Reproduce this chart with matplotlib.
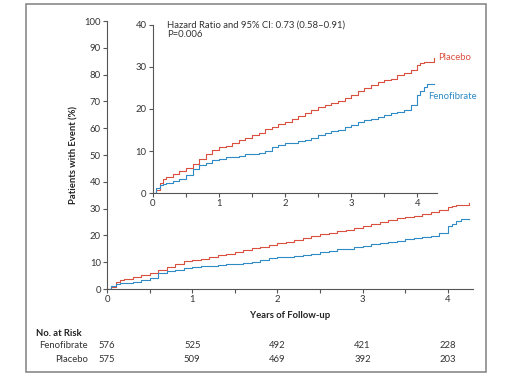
import matplotlib.pyplot as plt
from matplotlib.patches import Rectangle
import matplotlib.transforms as mtransforms

plt.rcParams['font.family'] = ['Lato', 'DejaVu Sans']

# Kaplan-Meier style cumulative incidence (%)
years = [0, 0.05, 0.1, 0.15, 0.2, 0.3, 0.4, 0.5, 0.6, 0.7, 0.8, 0.9, 1.0,
         1.1, 1.2, 1.3, 1.4, 1.5, 1.6, 1.7, 1.8, 1.9, 2.0, 2.1, 2.2, 2.3,
         2.4, 2.5, 2.6, 2.7, 2.8, 2.9, 3.0, 3.1, 3.2, 3.3, 3.4, 3.5, 3.6,
         3.7, 3.8, 3.9, 4.0, 4.05, 4.1, 4.15, 4.25]
placebo = [0, 0.8, 2.5, 3.3, 3.8, 4.5, 5.3, 6.0, 7.0, 8.2, 9.3, 10.3, 11.0,
           11.3, 11.9, 12.6, 13.2, 13.8, 14.4, 15.2, 15.8, 16.4, 17.0, 17.6,
           18.3, 19.0, 19.8, 20.5, 20.9, 21.5, 22.0, 22.6, 23.4, 24.3, 25.0,
           25.6, 26.4, 26.9, 27.2, 28.0, 28.6, 29.4, 30.5, 30.9, 31.2, 31.3,
           32.2]
fenofibrate = [0, 1.3, 2.0, 2.2, 2.4, 2.8, 3.3, 4.2, 5.8, 6.6, 7.2, 7.8, 8.2,
               8.5, 8.6, 8.9, 9.2, 9.4, 9.6, 10.0, 11.0, 11.4, 11.8, 12.0,
               12.3, 12.6, 13.2, 13.7, 14.2, 14.8, 15.1, 15.6, 16.1, 16.8,
               17.3, 17.6, 18.0, 18.5, 19.0, 19.4, 19.8, 21.0, 23.4, 24.2,
               25.2, 26.0, 26.0]

risk_years = [0, 1, 2, 3, 4]
risk_fenofibrate = [576, 525, 492, 421, 228]
risk_placebo = [575, 509, 469, 392, 203]

RED = '#d9503f'
BLUE = '#2f8bc6'
AXC = '#555555'
TXT = '#333333'
FS = 6.8


def style_axis(ax, ymax, ystep):
    for s in ['top', 'right']:
        ax.spines[s].set_visible(False)
    for s in ['left', 'bottom']:
        ax.spines[s].set_color(AXC)
        ax.spines[s].set_linewidth(0.8)
    ax.set_xlim(0, 4.3)
    ax.set_ylim(0, ymax)
    ax.set_xticks([0, 1, 2, 3, 4])
    ax.set_xticks([0.5, 1.5, 2.5, 3.5], minor=True)
    ax.set_yticks(range(0, ymax + 1, ystep))
    ax.tick_params(colors=AXC, labelcolor=TXT, labelsize=FS, length=3,
                   width=0.8, pad=1.5)
    ax.tick_params(axis='x', which='minor', length=3, width=0.8, colors=AXC)
    ax.spines['bottom'].set_bounds(0, 4.3)


fig = plt.figure(figsize=(5.15, 3.78), dpi=100)

fig.patches.append(Rectangle((0.0505, 0.016), 0.893, 0.973,
                             transform=fig.transFigure, fill=False,
                             edgecolor='#8a8a8a', linewidth=1.2))

# main axes
ax = fig.add_axes([0.208, 0.2354, 0.711, 0.709])
ax.plot(years, placebo, drawstyle='steps-post', color=RED, lw=0.8)
ax.plot(years, fenofibrate, drawstyle='steps-post', color=BLUE, lw=0.8)
style_axis(ax, 100, 10)
ax.set_ylabel('Patients with Event (%)', fontsize=FS, fontweight='bold',
              color='#222222', labelpad=4)
ax.set_xlabel('Years of Follow-up', fontsize=FS, fontweight='bold',
              color='#222222', labelpad=5)

# inset
ins = fig.add_axes([0.297, 0.4894, 0.5515, 0.4445])
ins.plot(years, placebo, drawstyle='steps-post', color=RED, lw=0.8)
ins.plot(years, fenofibrate, drawstyle='steps-post', color=BLUE, lw=0.8)
style_axis(ins, 40, 10)
ins.text(0.21, 41, 'Hazard Ratio and 95% CI: 0.73 (0.58\u20130.91)\nP=0.006',
         fontsize=FS, color=TXT, va='top', ha='left', linespacing=1.1)
ins.text(4.31, 32.2, 'Placebo', fontsize=FS, color=RED, va='center')
ins.text(4.16, 23.0, 'Fenofibrate', fontsize=FS, color=BLUE, va='center')

# number at risk table
trans = mtransforms.blended_transform_factory(ax.transData, fig.transFigure)
fig.text(0.07, 0.117, 'No. at Risk', fontsize=FS, fontweight='bold',
         color='#222222', va='center')
fig.text(0.171, 0.085, 'Fenofibrate', fontsize=FS, color=TXT, ha='right',
         va='center')
fig.text(0.171, 0.048, 'Placebo', fontsize=FS, color=TXT, ha='right',
         va='center')
for x, nf, npl in zip(risk_years, risk_fenofibrate, risk_placebo):
    ax.text(x, 0.085, str(nf), transform=trans, fontsize=FS, color=TXT,
            ha='center', va='center', clip_on=False)
    ax.text(x, 0.048, str(npl), transform=trans, fontsize=FS, color=TXT,
            ha='center', va='center', clip_on=False)

fig.savefig('out.png', dpi=100)
